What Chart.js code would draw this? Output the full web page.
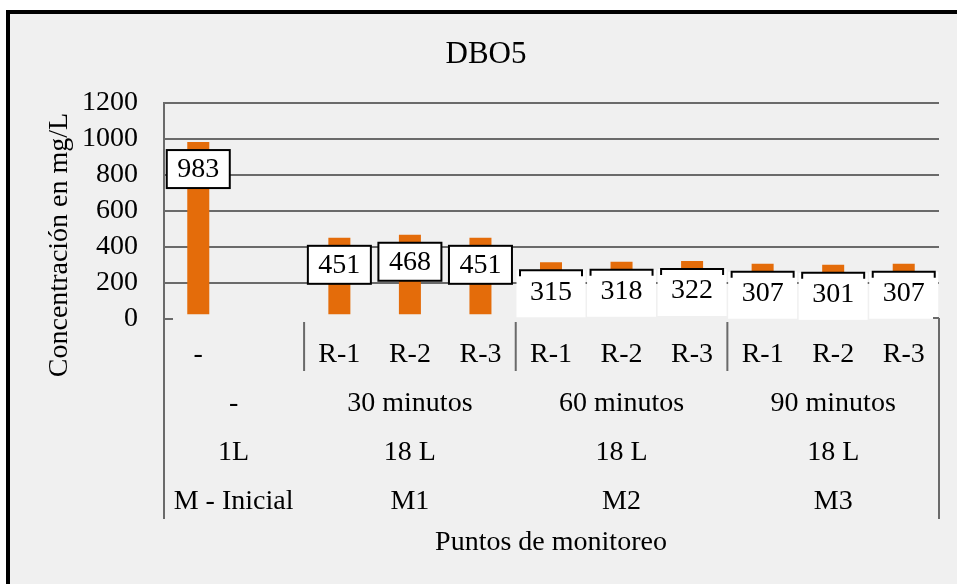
<!DOCTYPE html>
<html>
<head>
<meta charset="utf-8">
<script src="https://cdn.jsdelivr.net/npm/chart.js@4.4.0/dist/chart.umd.min.js"></script>
<style>
  html, body { margin: 0; padding: 0; background: #fff; }
  #wrap { width: 957px; height: 584px; }
</style>
</head>
<body>
<div id="wrap"><canvas id="c" width="957" height="584"></canvas></div>
<script>
// ---- data ----
const chartTitle = 'DBO5';
const yTitle = 'Concentración en mg/L';
const xTitle = 'Puntos de monitoreo';
const categories = ['-', '', 'R-1', 'R-2', 'R-3', 'R-1', 'R-2', 'R-3', 'R-1', 'R-2', 'R-3'];
const values = [983, null, 451, 468, 451, 315, 318, 322, 307, 301, 307];
const groupSizes = [2, 3, 3, 3];
const timeLabels = ['-', '30 minutos', '60 minutos', '90 minutos'];
const volumeLabels = ['1L', '18 L', '18 L', '18 L'];
const pointLabels = ['M - Inicial', 'M1', 'M2', 'M3'];
const yMin = 0, yMax = 1200, yStep = 200;

const FONT = '"Liberation Serif", "Times New Roman", serif';
const GRID = '#6a6a6a';
const BAR = '#E46C0A';

const framePlugin = {
  id: 'frame',
  beforeDraw(chart) {
    const c = chart.ctx, W = chart.width, H = chart.height;
    c.save();
    c.fillStyle = '#ffffff'; c.fillRect(0, 0, W, H);
    c.fillStyle = '#000000'; c.fillRect(6, 10, W, H);
    c.fillStyle = '#f0f0f0'; c.fillRect(10, 14, W, H);
    c.restore();
  }
};

const labelsPlugin = {
  id: 'valueLabels',
  afterDatasetsDraw(chart) {
    const c = chart.ctx;
    const meta = chart.getDatasetMeta(0);
    c.save();
    c.font = '28px ' + FONT;
    c.textAlign = 'center';
    c.textBaseline = 'middle';
    let idx = 0;
    groupSizes.forEach((size, g) => {
      for (let k = 0; k < size; k++, idx++) {
        const v = values[idx];
        if (v === null || v === undefined) continue;
        const el = meta.data[idx];
        const x = el.x, top = el.y + 8;
        if (g < 2) {
          const w = 63, h = 38;
          c.fillStyle = '#fff';
          c.fillRect(x - w / 2, top, w, h);
          c.strokeStyle = '#000'; c.lineWidth = 2;
          c.strokeRect(x - w / 2, top, w, h);
          c.fillStyle = '#000';
          c.fillText(String(v), x, top + h / 2 + 1);
        } else {
          const w = 69, h = 47;
          c.fillStyle = '#fff';
          c.fillRect(x - w / 2, top, w, h);
          c.strokeStyle = '#000'; c.lineWidth = 2;
          c.beginPath();
          c.moveTo(x - 31, top + 6); c.lineTo(x - 31, top); c.lineTo(x + 31, top); c.lineTo(x + 31, top + 6);
          c.stroke();
          c.fillStyle = '#000';
          c.fillText(String(v), x, top + 22);
        }
      }
    });
    c.restore();
  }
};

const axisPlugin = {
  id: 'axisText',
  afterDraw(chart) {
    const c = chart.ctx, a = chart.chartArea;
    const xs = chart.scales.x;
    const n = categories.length;
    const cw = (xs.right - xs.left) / n;
    c.save();
    c.fillStyle = '#000';
    c.textAlign = 'center';
    c.textBaseline = 'middle';
    // title
    c.font = '31px ' + FONT;
    c.fillText(chartTitle, 486, 55);
    // y title
    c.font = '28px ' + FONT;
    c.save();
    c.translate(60, 245);
    c.rotate(-Math.PI / 2);
    c.fillText(yTitle, 0, 0);
    c.restore();
    // level 1
    categories.forEach((lab, i) => {
      if (lab) c.fillText(lab, xs.getPixelForValue(i), 355);
    });
    // group levels
    let start = 0;
    const seps = [];
    groupSizes.forEach((size, g) => {
      const left = xs.left + start * cw;
      const right = left + size * cw;
      const mid = (left + right) / 2;
      c.fillText(timeLabels[g], mid, 404);
      c.fillText(volumeLabels[g], mid, 453);
      c.fillText(pointLabels[g], mid, 502);
      if (g > 0) seps.push(left);
      start += size;
    });
    c.fillText(xTitle, (xs.left + xs.right) / 2, 543);
    // lines
    c.strokeStyle = GRID; c.lineWidth = 2;
    c.beginPath();
    c.moveTo(a.left + 1, a.top); c.lineTo(a.left + 1, 519);
    c.moveTo(a.left, a.bottom); c.lineTo(a.left + 10, a.bottom);
    c.moveTo(a.right, 318); c.lineTo(a.right, 519);
    c.moveTo(a.right - 6, 318); c.lineTo(a.right, 318);
    seps.forEach(x => { c.moveTo(x, 322); c.lineTo(x, 371); });
    c.stroke();
    c.restore();
  }
};

new Chart(document.getElementById('c'), {
  type: 'bar',
  data: {
    labels: categories,
    datasets: [{
      data: values,
      backgroundColor: BAR,
      borderWidth: 0,
      base: 27,
      barPercentage: 0.312,
      categoryPercentage: 1.0
    }]
  },
  options: {
    responsive: false,
    animation: false,
    devicePixelRatio: 1,
    layout: { padding: { top: 103, bottom: 584 - 319, left: 0, right: 957 - 939 } },
    plugins: { legend: { display: false }, title: { display: false }, tooltip: { enabled: false } },
    scales: {
      x: {
        type: 'category',
        offset: true,
        ticks: { display: false },
        grid: { display: false, drawTicks: false },
        border: { display: false },
        afterFit(s) { s.height = 0; }
      },
      y: {
        min: yMin, max: yMax,
        ticks: {
          stepSize: yStep,
          autoSkip: false,
          padding: 25,
          color: '#000',
          font: { family: FONT, size: 28 },
          callback: v => String(v)
        },
        grid: {
          drawTicks: false,
          lineWidth: 2,
          color: ctx => (ctx.tick && ctx.tick.value === 0) ? 'rgba(0,0,0,0)' : GRID
        },
        border: { display: false },
        afterFit(s) { s.width = 163; }
      }
    }
  },
  plugins: [framePlugin, labelsPlugin, axisPlugin]
});
</script>
</body>
</html>
